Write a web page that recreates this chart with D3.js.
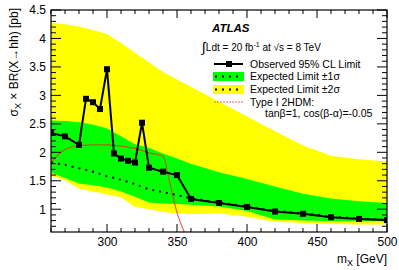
<!DOCTYPE html>
<html>
  <head>
    <meta charset="utf-8">
    <title>ATLAS X to hh limit</title>
    <script src="https://d3js.org/d3.v7.min.js"></script>
    <style>
      body { margin: 0; background: #fff; }
      svg { font-family: "Liberation Sans", Arial, Helvetica, sans-serif; }
      .tick text { font-size: 12px; }
    </style>
  </head>
  <body>
    <svg id="chart" width="399" height="270"></svg>
    <script>
      // observed limit points
      obsMass = [260, 270, 280, 285, 290, 295, 300, 305, 310, 315, 320, 325, 330, 340, 350, 360, 380, 400, 420, 440, 460, 480, 500];
      obsLimit = [2.34, 2.28, 2.13, 2.94, 2.88, 2.76, 3.46, 1.98, 1.89, 1.85, 1.82, 2.52, 1.73, 1.66, 1.60, 1.18, 1.11, 1.04, 0.96, 0.92, 0.86, 0.83, 0.81];
      // expected limit and bands
      expMass = [260, 270, 280, 290, 300, 310, 320, 330, 340, 350, 360, 380, 400, 420, 440, 460, 480, 500];
      expLimit = [1.82, 1.78, 1.72, 1.66, 1.58, 1.52, 1.44, 1.35, 1.30, 1.25, 1.19, 1.12, 1.05, 0.97, 0.93, 0.87, 0.84, 0.81];
      plus1 = [2.56, 2.55, 2.53, 2.49, 2.42, 2.28, 2.14, 2.08, 1.98, 1.89, 1.80, 1.65, 1.53, 1.40, 1.27, 1.19, 1.14, 1.11];
      minus1 = [1.64, 1.55, 1.45, 1.42, 1.38, 1.31, 1.22, 1.12, 1.10, 1.09, 1.08, 1.05, 0.97, 0.82, 0.80, 0.79, 0.79, 0.79];
      plus2 = [4.28, 4.25, 4.21, 4.15, 4.08, 3.92, 3.75, 3.58, 3.41, 3.28, 3.15, 2.89, 2.63, 2.37, 2.12, 1.94, 1.88, 1.84];
      minus2 = [1.59, 1.51, 1.36, 1.31, 1.26, 1.21, 1.04, 1.00, 0.95, 0.93, 0.91, 0.93, 0.87, 0.78, 0.76, 0.74, 0.73, 0.73];
      // Type I 2HDM prediction
      thMass = [260, 266, 272, 280, 290, 300, 310, 320, 330, 340, 345, 350, 355, 358];
      thXsec = [1.81, 1.98, 2.07, 2.12, 2.13, 2.13, 2.11, 2.07, 1.99, 1.93, 1.45, 0.94, 0.61, 0.45];
      // axis ticks
      xTicks = [300, 350, 400, 450, 500];
      yTicks = [1, 1.5, 2, 2.5, 3, 3.5, 4, 4.5];

      svg = d3.select("#chart");
      margin = { top: 10, right: 12, bottom: 38, left: 51 };
      width = 399;
      height = 270;
      x = d3.scaleLinear().domain([260, 500]).range([margin.left, width - margin.right]);
      y = d3.scaleLinear().domain([0.6, 4.5]).range([height - margin.bottom, margin.top]);

      svg.append("clipPath").attr("id", "clip")
        .append("rect")
          .attr("x", x(260)).attr("y", y(4.5))
          .attr("width", x(500) - x(260)).attr("height", y(0.6) - y(4.5));
      plot = svg.append("g").attr("clip-path", "url(#clip)");

      band = function(lo, hi) {
        return d3.area()
          .x(function(d, i) { return x(expMass[i]); })
          .y0(function(d, i) { return y(lo[i]); })
          .y1(function(d, i) { return y(hi[i]); })(expMass);
      };
      plot.append("path").attr("d", band(minus2, plus2)).attr("fill", "#ffff00");
      plot.append("path").attr("d", band(minus1, plus1)).attr("fill", "#00ff00");

      plot.append("path")
        .attr("d", d3.line()
          .x(function(d, i) { return x(thMass[i]); })
          .y(function(d) { return y(d); })
          .curve(d3.curveMonotoneX)(thXsec))
        .attr("fill", "none")
        .attr("stroke", "#e8301c")
        .attr("stroke-opacity", 0.75)
        .attr("stroke-width", 1.2);

      plot.append("path")
        .attr("d", d3.line()
          .x(function(d, i) { return x(expMass[i]); })
          .y(function(d) { return y(d); })(expLimit))
        .attr("fill", "none")
        .attr("stroke", "#000")
        .attr("stroke-width", 2)
        .attr("stroke-dasharray", "2,5");

      plot.append("path")
        .attr("d", d3.line()
          .x(function(d, i) { return x(obsMass[i]); })
          .y(function(d) { return y(d); })(obsLimit))
        .attr("fill", "none")
        .attr("stroke", "#000")
        .attr("stroke-width", 2);
      plot.selectAll(".marker")
        .data(obsLimit)
        .enter().append("rect")
          .attr("x", function(d, i) { return x(obsMass[i]) - 3; })
          .attr("y", function(d) { return y(d) - 3; })
          .attr("width", 6)
          .attr("height", 6)
          .attr("fill", "#000");

      // axes with mirrored ticks
      xMinor = d3.range(260, 501, 10);
      yMinor = d3.range(0.7, 4.51, 0.1);
      bottomAxis = d3.axisBottom(x).tickValues(xTicks).tickSize(0).tickPadding(5).tickFormat(d3.format("d"));
      svg.append("g").attr("transform", "translate(0," + y(0.6) + ")").call(bottomAxis)
        .call(function(g) { g.select(".domain").remove(); });
      leftAxis = d3.axisLeft(y).tickValues(yTicks).tickSize(0).tickPadding(5).tickFormat(function(d) { return d; });
      svg.append("g").attr("transform", "translate(" + x(260) + ",0)").call(leftAxis)
        .call(function(g) { g.select(".domain").remove(); });
      svg.selectAll(".tick text").attr("fill", "#000");

      ticks = svg.append("g").attr("stroke", "#000").attr("stroke-width", 1);
      xMinor.forEach(function(m) {
        let len = (m % 50 == 0) ? 8 : 4;
        ticks.append("line").attr("x1", x(m)).attr("x2", x(m)).attr("y1", y(0.6)).attr("y2", y(0.6) - len);
        ticks.append("line").attr("x1", x(m)).attr("x2", x(m)).attr("y1", y(4.5)).attr("y2", y(4.5) + len);
      });
      yMinor.forEach(function(v) {
        let major = Math.abs(v * 2 - Math.round(v * 2)) < 0.01;
        let len = major ? 10 : 5;
        ticks.append("line").attr("x1", x(260)).attr("x2", x(260) + len).attr("y1", y(v)).attr("y2", y(v));
        ticks.append("line").attr("x1", x(500)).attr("x2", x(500) - len).attr("y1", y(v)).attr("y2", y(v));
      });
      svg.append("rect")
        .attr("x", x(260)).attr("y", y(4.5))
        .attr("width", x(500) - x(260)).attr("height", y(0.6) - y(4.5))
        .attr("fill", "none").attr("stroke", "#000").attr("stroke-width", 1.2);

      // axis titles
      xt = svg.append("text").attr("x", x(500)).attr("y", 263).attr("text-anchor", "end").attr("font-size", 12);
      xt.append("tspan").text("m");
      xt.append("tspan").attr("font-size", 9).attr("dy", 3).text("X");
      xt.append("tspan").attr("dy", -3).text(" [GeV]");
      yt = svg.append("text").attr("transform", "translate(18,8) rotate(-90)").attr("text-anchor", "end").attr("font-size", 12);
      yt.append("tspan").text("σ");
      yt.append("tspan").attr("font-size", 9).attr("dy", 3).text("X");
      yt.append("tspan").attr("dy", -3).text(" × BR(X→hh) [pb]");

      // labels and legend
      svg.append("text").attr("x", 212).attr("y", 32)
        .attr("font-size", 11.5).attr("font-weight", "bold").attr("font-style", "italic").text("ATLAS");
      lumi = svg.append("text").attr("x", 202).attr("y", 51).attr("font-size", 10);
      lumi.append("tspan").attr("font-size", 14).attr("dy", 1).text("∫");
      lumi.append("tspan").attr("dy", -1).text("Ldt = 20 fb");
      lumi.append("tspan").attr("font-size", 7).attr("dy", -4).text("-1");
      lumi.append("tspan").attr("dy", 4).text(" at √s = 8 TeV");

      legend = svg.append("g").attr("font-size", 10.5);
      legend.append("line").attr("x1", 214).attr("x2", 243).attr("y1", 64).attr("y2", 64).attr("stroke", "#000").attr("stroke-width", 2);
      legend.append("rect").attr("x", 226).attr("y", 61).attr("width", 6).attr("height", 6);
      legend.append("rect").attr("x", 213).attr("y", 72).attr("width", 31).attr("height", 9).attr("fill", "#00ff00");
      legend.append("rect").attr("x", 213).attr("y", 85).attr("width", 31).attr("height", 9).attr("fill", "#ffff00");
      [76.5, 89.5].forEach(function(ly) {
        legend.append("line").attr("x1", 215).attr("x2", 243).attr("y1", ly).attr("y2", ly)
          .attr("stroke", "#000").attr("stroke-width", 2).attr("stroke-dasharray", "2,5");
      });
      legend.append("line").attr("x1", 214).attr("x2", 243).attr("y1", 102).attr("y2", 102)
        .attr("stroke", "#f03020").attr("stroke-opacity", 0.75).attr("stroke-width", 1).attr("stroke-dasharray", "2,1");
      legendText = ["Observed 95% CL Limit", "Expected Limit ±1σ", "Expected Limit ±2σ", "Type I 2HDM:"];
      legendText.forEach(function(t, i) {
        legend.append("text").attr("x", 250).attr("y", 67.5 + i * 12.8).text(t);
      });
      legend.append("text").attr("x", 265).attr("y", 117).text("tanβ=1, cos(β-α)=-0.05");
    </script>
  </body>
</html>
